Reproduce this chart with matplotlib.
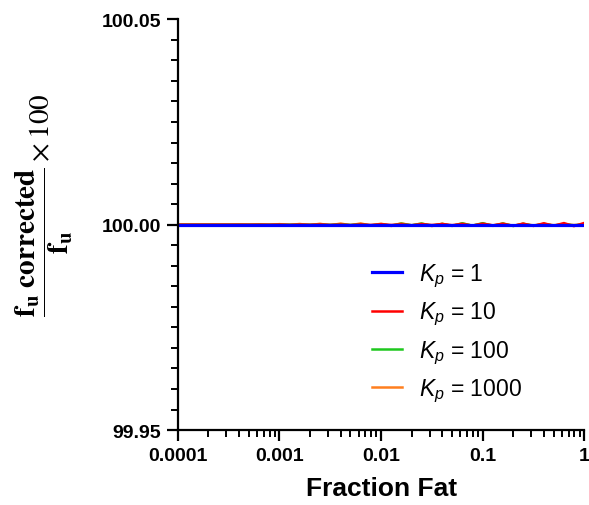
import matplotlib
matplotlib.use("Agg")
import matplotlib.pyplot as plt
from matplotlib.ticker import MultipleLocator, FixedLocator, FixedFormatter, LogLocator, NullFormatter

plt.rcParams['font.family'] = ['Liberation Sans', 'DejaVu Sans']
plt.rcParams['mathtext.fontset'] = 'custom'
plt.rcParams['mathtext.rm'] = 'Liberation Sans'
plt.rcParams['mathtext.it'] = 'Liberation Sans:italic'
plt.rcParams['mathtext.bf'] = 'Liberation Sans:bold'

# Fraction fat (shared x grid)
fraction_fat = [0.0001, 0.000126, 0.000158, 0.0002, 0.00025, 0.000316, 0.0004, 0.0005, 0.00063, 0.00079,
                0.001, 0.00126, 0.00158, 0.002, 0.0025, 0.00316, 0.004, 0.005, 0.0063, 0.0079,
                0.01, 0.0126, 0.0158, 0.02, 0.025, 0.0316, 0.04, 0.05, 0.063, 0.079,
                0.1, 0.126, 0.158, 0.2, 0.25, 0.316, 0.4, 0.5, 0.63, 0.79, 1.0]

# deviations from 100, in units of 1e-4
dev_kp1 = [0] * 41
dev_kp10 = [0] * 10 + [0.2, -0.4, 0.3, -0.2, 0.6, -0.5, 0.4, -0.9, 0.7, -0.6,
                       1.1, -0.7, 0.9, -1.3, 1.4, -0.8, 1.6, -1.2, 1.8, -2.1,
                       2.4, -1.6, 2.2, -2.8, 2.6, -3.1, 3.4, -2.7, 3.9, -3.6, 4.2]
dev_kp100 = [0] * 14 + [0.4, -0.3, 0.9, -0.6, 1.2, -1.5,
                        1.1, -2.0, 2.3, -1.4, 2.6, -2.2, 1.8, -3.0, 3.2, -2.4,
                        3.6, -2.9, 2.7, -3.3, 2.1, -2.6, 1.7, -2.2, 1.3, -1.6, 0.8]
dev_kp1000 = [0, 0, 0, 0, 0, 0, 0.4, -0.3, 0.8, -0.6,
              1.3, -0.9, 1.7, -1.4, 2.2, -1.9, 2.8, -1.6, 3.1, -2.5,
              2.4, -3.2, 3.5, -2.2, 2.9, -3.4, 2.3, -2.8, 3.3, -2.6,
              2.8, -2.1, 3.0, -2.7, 2.2, -1.8, 1.9, -1.3, 1.0, -0.8, 0.5]

def ratio(dev):
    return [100 + d * 1e-4 for d in dev]

fig = plt.figure(figsize=(5.89, 5.06), dpi=100)
ax = fig.add_axes([0.302, 0.148, 0.690, 0.812])

l4, = ax.plot(fraction_fat, ratio(dev_kp1000), color='#ff7f1e', lw=1.8, label='$K_p$ = 1000')
l3, = ax.plot(fraction_fat, ratio(dev_kp100), color='#1ec81e', lw=1.8, label='$K_p$ = 100')
l2, = ax.plot(fraction_fat, ratio(dev_kp10), color='#ff0000', lw=1.8, label='$K_p$ = 10')
l1, = ax.plot(fraction_fat, ratio(dev_kp1), color='#0000ff', lw=2.3, label='$K_p$ = 1')

ax.set_xscale('log')
ax.set_xlim(0.0001, 1)
ax.set_ylim(99.95, 100.05)

ax.xaxis.set_major_locator(FixedLocator([0.0001, 0.001, 0.01, 0.1, 1]))
ax.xaxis.set_major_formatter(FixedFormatter(['0.0001', '0.001', '0.01', '0.1', '1']))
ax.xaxis.set_minor_locator(LogLocator(base=10, subs=range(2, 10)))
ax.xaxis.set_minor_formatter(NullFormatter())

ax.yaxis.set_major_locator(FixedLocator([99.95, 100.0, 100.05]))
ax.yaxis.set_major_formatter(FixedFormatter(['99.95', '100.00', '100.05']))
ax.yaxis.set_minor_locator(MultipleLocator(0.005))

for s in ['top', 'right']:
    ax.spines[s].set_visible(False)
for s in ['left', 'bottom']:
    ax.spines[s].set_linewidth(1.6)

ax.tick_params(which='major', length=8, width=1.6, labelsize=14, pad=4)
ax.tick_params(which='minor', length=5, width=1.4)
for lab in ax.get_xticklabels() + ax.get_yticklabels():
    lab.set_fontweight('bold')

ax.set_xlabel('Fraction Fat', fontsize=19, fontweight='bold', labelpad=9)
ax.set_ylabel(r'$\dfrac{\mathbf{f_u\ corrected}}{\mathbf{f_u}}\times 100$',
              fontsize=21, math_fontfamily='stix')
ax.yaxis.set_label_coords(-0.252, 0.55)

ax.legend(handles=[l1, l2, l3, l4], loc='upper left', bbox_to_anchor=(0.477, 0.41),
          frameon=False, fontsize=16.5, handlelength=1.3, labelspacing=0.48,
          handletextpad=0.75, borderpad=0, borderaxespad=0)

fig.savefig('out.png', dpi=100)
